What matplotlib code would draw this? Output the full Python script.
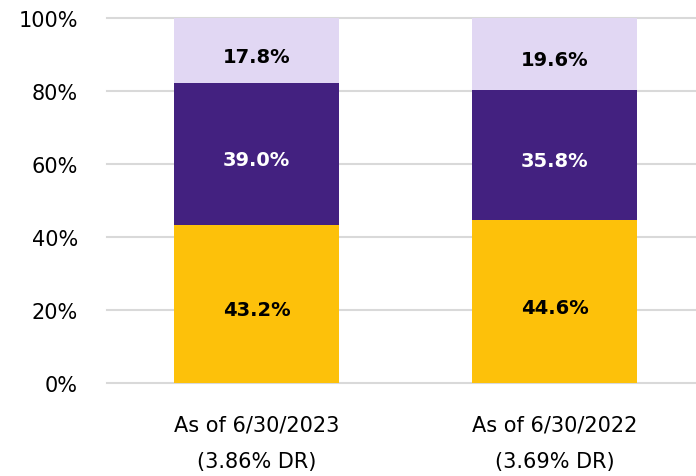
import matplotlib
matplotlib.use("Agg")
import matplotlib.pyplot as plt
from matplotlib.ticker import FuncFormatter

categories = ["As of 6/30/2023\n(3.86% DR)", "As of 6/30/2022\n(3.69% DR)"]
seg_bottom = [43.2, 44.6]
seg_middle = [39.0, 35.8]
seg_top = [17.8, 19.6]
yticks = [0, 20, 40, 60, 80, 100]

colors = ["#FDC10A", "#432180", "#E1D7F3"]
text_colors = ["black", "white", "black"]

plt.rcParams['font.family'] = ['DejaVu Sans']

fig = plt.figure(figsize=(6.96, 4.77), dpi=100)
ax = fig.add_axes([0.1537, 0.195, 0.8463, 0.765])

x = list(range(len(categories)))
bottom = [0.0] * len(categories)
for vals, c, tc in zip([seg_bottom, seg_middle, seg_top], colors, text_colors):
    bars = ax.bar(x, vals, width=0.554, bottom=bottom, color=c, zorder=3)
    for xi, v, b in zip(x, vals, bottom):
        ax.annotate(f"{v:.1f}%", (xi, b + v / 2), xytext=(0, -4),
                    textcoords="offset points", ha="center", va="center",
                    color=tc, fontsize=14, fontweight="bold", zorder=4)
    bottom = [b + v for b, v in zip(bottom, vals)]

ax.set_xlim(-0.502, 1.475)
ax.set_ylim(0, 100)
ax.set_yticks(yticks)
ax.yaxis.set_major_formatter(FuncFormatter(lambda v, p: f"{v:.0f}%"))
ax.set_xticks(x)
ax.set_xticklabels(categories, linespacing=2.0)
ax.tick_params(axis="both", length=0, labelsize=15, colors="black")
ax.tick_params(axis="y", pad=21)
ax.tick_params(axis="x", pad=23)
ax.grid(axis="y", color="#d9d9d9", linewidth=1.5, zorder=0)
for gl in ax.get_ygridlines():
    gl.set_clip_on(False)
for s in ax.spines.values():
    s.set_visible(False)

fig.savefig("out.png", dpi=100)
